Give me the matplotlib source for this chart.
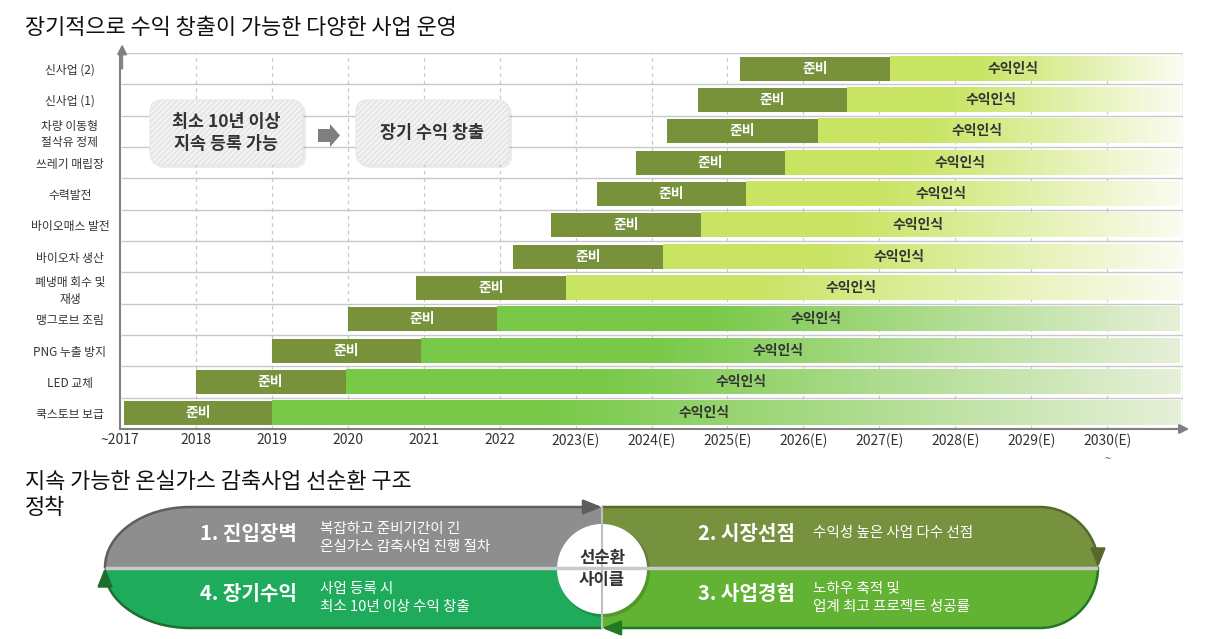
import numpy as np
import matplotlib
matplotlib.use("Agg")
import matplotlib.pyplot as plt
from matplotlib.path import Path
from matplotlib.patches import PathPatch, FancyArrowPatch, FancyBboxPatch, Circle, FancyArrow

plt.rcParams['font.family'] = ['Noto Sans CJK KR', 'DejaVu Sans']

# ---- data ----
projects = ['쿡스토브 보급', 'LED 교체', 'PNG 누출 방지', '맹그로브 조림',
            '폐냉매 회수 및\n재생', '바이오차 생산', '바이오매스 발전', '수력발전',
            '쓰레기 매립장', '차량 이동형\n절삭유 정제', '신사업 (1)', '신사업 (2)']
prep_start = [2017.05, 2018.0, 2019.0, 2020.0, 2020.9, 2022.18, 2022.68, 2023.28,
              2023.79, 2024.21, 2024.61, 2025.17]
prep_end = [2019.0, 2019.97, 2020.97, 2021.97, 2022.87, 2024.15, 2024.65, 2025.25,
            2025.76, 2026.19, 2026.58, 2027.14]
running = [True, True, True, True, False, False, False, False, False, False, False, False]
horizon = 2030.96

years = list(range(2017, 2031))
year_labels = ['~2017', '2018', '2019', '2020', '2021', '2022', '2023(E)', '2024(E)',
               '2025(E)', '2026(E)', '2027(E)', '2028(E)', '2029(E)', '2030(E)']

W, H = 1222, 639
fig = plt.figure(figsize=(W / 100, H / 100), dpi=100)

# ---- gantt ----
ax = fig.add_axes([120 / W, (H - 429) / H, (1183.1 - 120) / W, (429 - 53) / H])
prep_col = '#78923c'
lime0, lime1 = np.array([200, 228, 98]) / 255, np.array([250, 252, 240]) / 255
green0, green1 = np.array([119, 201, 71]) / 255, np.array([230, 240, 216]) / 255
bh = 0.77

for i in range(len(projects)):
    ax.barh(i, prep_end[i] - prep_start[i], left=prep_start[i], height=bh,
            color=prep_col, zorder=3)
    c0, c1 = (green0, green1) if running[i] else (lime0, lime1)
    t = np.linspace(0, 1, 300)
    f = np.clip((t - 0.3) / 0.7, 0, 1)[:, None]
    grad = (c0 * (1 - f) + c1 * f)[None, :, :]
    ax.imshow(grad, extent=(prep_end[i], horizon, i - bh / 2, i + bh / 2),
              aspect='auto', interpolation='bilinear', zorder=3)
    ax.text((prep_start[i] + prep_end[i]) / 2, i, '준비', color='white',
            fontsize=10, fontweight='bold', ha='center', va='center', zorder=4)
    ax.text((prep_end[i] + 2030.37) / 2, i, '수익인식', color='#333333',
            fontsize=10, fontweight='bold', ha='center', va='center', zorder=4)

ax.set_xlim(2017.028, 2031.0)
ax.set_ylim(-0.5, 11.5)
for y in years[1:]:
    ax.plot([y, y], [-0.5, 11.5], color='#c8c8c8', lw=0.9, ls=(0, (3, 3)), zorder=1)
for k in range(len(projects)):
    ax.plot([2017.03, 2031.0], [k + 0.5, k + 0.5], color='#c8c8c8', lw=1, zorder=1)
ax.plot([2031.0, 2031.0], [-0.5, 11.5], color='#bdbdbd', lw=1, zorder=1)

for s in ['top', 'right']:
    ax.spines[s].set_visible(False)
for s in ['left', 'bottom']:
    ax.spines[s].set_color('#808080')
    ax.spines[s].set_linewidth(1.5)
ax.annotate('', xy=(2031.08, -0.5), xytext=(2030.6, -0.5), annotation_clip=False,
            arrowprops=dict(arrowstyle='-|>', color='#808080', lw=1.5,
                            shrinkA=0, shrinkB=0, mutation_scale=14))
ax.annotate('', xy=(2017.028, 11.78), xytext=(2017.028, 11.0), annotation_clip=False,
            arrowprops=dict(arrowstyle='-|>', color='#808080', lw=1.5,
                            shrinkA=0, shrinkB=0, mutation_scale=14))

ax.set_yticks(range(len(projects)))
ax.set_yticklabels(projects, fontsize=8.5, color='#333333', linespacing=1.35)
for lab in ax.get_yticklabels():
    lab.set_ha('center')
    lab.set_multialignment('center')
ax.tick_params(axis='y', length=0, pad=36)
ax.set_xticks(years)
ax.set_xticklabels(year_labels, fontsize=10, color='#333333')
ax.tick_params(axis='x', length=0, pad=3)
ax.text(2030, -1.45, '~', fontsize=8, color='#555555', ha='center', va='center')

# ---- overlay (pixel coords) ----
ov = fig.add_axes([0, 0, 1, 1], zorder=5)
ov.set_xlim(0, W)
ov.set_ylim(H, 0)
ov.axis('off')

ov.text(25, 28, '장기적으로 수익 창출이 가능한 다양한 사업 운영', fontsize=15.8,
        color='#111111', fontweight='medium', ha='left', va='center')
ov.text(25, 495, '지속 가능한 온실가스 감축사업 선순환 구조\n정착', fontsize=15.8,
        color='#111111', fontweight='medium', ha='left', va='center', linespacing=1.2)

# callout boxes
for (x0, x1, txt) in [(150, 303, '최소 10년 이상\n지속 등록 가능'), (356, 509, '장기 수익 창출')]:
    ov.add_patch(FancyBboxPatch((x0 + 3, 103), x1 - x0, 65, boxstyle='round,pad=0,rounding_size=12',
                                fc='#000000', ec='none', alpha=0.08))
    ov.add_patch(FancyBboxPatch((x0, 100), x1 - x0, 65, boxstyle='round,pad=0,rounding_size=12',
                                fc='#f3f3f3', ec='#e2e2e2', lw=0, hatch='//////'))
    ov.add_patch(FancyBboxPatch((x0, 100), x1 - x0, 65, boxstyle='round,pad=0,rounding_size=12',
                                fc='none', ec='#e6e6e6', lw=0.8))
    ov.text((x0 + x1) / 2, 133, txt, fontsize=12.5, fontweight='bold', color='#333333',
            ha='center', va='center', linespacing=1.3)
ov.add_patch(FancyArrow(318, 135.5, 22, 0, width=13, head_width=23, head_length=10,
                        length_includes_head=True, fc='#7f7f7f', ec='none'))

# cycle diagram
L, R, T, B, C = 105, 1098, 507, 628, 602
M = (T + B) / 2
ry = (B - T) / 2
rxl, rxr = 85, 58
k = 0.5523

def region(verts):
    codes = [Path.MOVETO, Path.LINETO, Path.LINETO, Path.CURVE4, Path.CURVE4, Path.CURVE4,
             Path.LINETO, Path.CLOSEPOLY]
    return Path(verts + [verts[0]], codes)

tl = region([(C, M), (C, T), (L + rxl, T), (L + rxl - k * rxl, T), (L, M - k * ry), (L, M), (C, M)])
bl = region([(C, M), (C, B), (L + rxl, B), (L + rxl - k * rxl, B), (L, M + k * ry), (L, M), (C, M)])
tr = region([(C, M), (C, T), (R - rxr, T), (R - rxr + k * rxr, T), (R, M - k * ry), (R, M), (C, M)])
br = region([(C, M), (C, B), (R - rxr, B), (R - rxr + k * rxr, B), (R, M + k * ry), (R, M), (C, M)])
for p, col in [(tl, '#8e8e8e'), (bl, '#1eab5b'), (tr, '#77923e'), (br, '#62b234')]:
    ov.add_patch(PathPatch(p, fc=col, ec='none'))

ov.plot([L + 2, R - 2], [M, M], color='#c9c9c9', lw=2.5)
ov.plot([C, C], [T, B], color='#bfbfbf', lw=1.5)

C4 = [Path.MOVETO, Path.CURVE4, Path.CURVE4, Path.CURVE4, Path.LINETO]
C4b = [Path.MOVETO, Path.LINETO, Path.CURVE4, Path.CURVE4, Path.CURVE4]
strokes = [
    (Path([(L, M), (L, M - k * ry), (L + rxl - k * rxl, T), (L + rxl, T), (C, T)], C4), '#5e5e5e'),
    (Path([(C, T), (R - rxr, T), (R - rxr + k * rxr, T), (R, M - k * ry), (R, M)], C4b), '#55692a'),
    (Path([(R, M), (R, M + k * ry), (R - rxr + k * rxr, B), (R - rxr, B), (C, B)], C4), '#1f7a22'),
    (Path([(C, B), (L + rxl, B), (L + rxl - k * rxl, B), (L, M + k * ry), (L, M)], C4b), '#1f6e2c'),
]
for p, col in strokes:
    ov.add_patch(FancyArrowPatch(path=p, arrowstyle='-|>,head_length=0.75,head_width=0.3',
                                 mutation_scale=15, color=col, lw=1.8, shrinkA=0, shrinkB=0))

ov.add_patch(Circle((604, 571), 46, fc='#000000', ec='none', alpha=0.15))
ov.add_patch(Circle((C, 569), 45, fc='white', ec='none'))
ov.text(C, 569, '선순환\n사이클', fontsize=12, fontweight='bold', color='#333333',
        ha='center', va='center', linespacing=1.25)

heads = [(200, 533, '1. 진입장벽'), (200, 593, '4. 장기수익'),
         (698, 533, '2. 시장선점'), (698, 593, '3. 사업경험')]
for x, y, s in heads:
    ov.text(x, y, s, fontsize=14.5, fontweight='bold', color='white', ha='left', va='center')
subs = [(320, 538, '복잡하고 준비기간이 긴\n온실가스 감축사업 진행 절차'),
        (320, 598, '사업 등록 시\n최소 10년 이상 수익 창출'),
        (813, 533, '수익성 높은 사업 다수 선점'),
        (813, 598, '노하우 축적 및\n업계 최고 프로젝트 성공률')]
for x, y, s in subs:
    ov.text(x, y, s, fontsize=10.5, color='white', ha='left', va='center', linespacing=1.3)

fig.savefig('out.png', dpi=100)
